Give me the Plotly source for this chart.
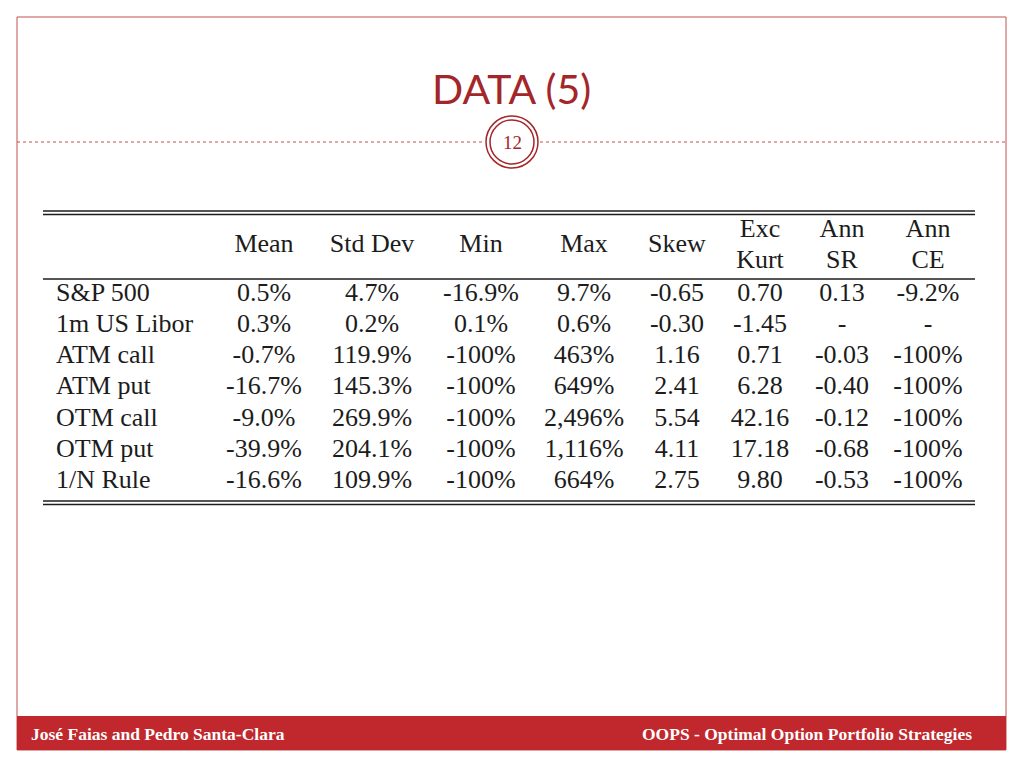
import plotly.graph_objects as go

# ---- data ----
title_text = "DATA (5)"
slide_number = "12"
footer_left = "José Faias and Pedro Santa-Clara"
footer_right = "OOPS - Optimal Option Portfolio Strategies"

row_labels = ["S&P 500", "1m US Libor", "ATM call", "ATM put", "OTM call", "OTM put", "1/N Rule"]
col_headers = [["Mean"], ["Std Dev"], ["Min"], ["Max"], ["Skew"], ["Exc", "Kurt"], ["Ann", "SR"], ["Ann", "CE"]]

mean_vals = ["0.5%", "0.3%", "-0.7%", "-16.7%", "-9.0%", "-39.9%", "-16.6%"]
std_vals = ["4.7%", "0.2%", "119.9%", "145.3%", "269.9%", "204.1%", "109.9%"]
min_vals = ["-16.9%", "0.1%", "-100%", "-100%", "-100%", "-100%", "-100%"]
max_vals = ["9.7%", "0.6%", "463%", "649%", "2,496%", "1,116%", "664%"]
skew_vals = ["-0.65", "-0.30", "1.16", "2.41", "5.54", "4.11", "2.75"]
kurt_vals = ["0.70", "-1.45", "0.71", "6.28", "42.16", "17.18", "9.80"]
sr_vals = ["0.13", "-", "-0.03", "-0.40", "-0.12", "-0.68", "-0.53"]
ce_vals = ["-9.2%", "-", "-100%", "-100%", "-100%", "-100%", "-100%"]
columns = [mean_vals, std_vals, min_vals, max_vals, skew_vals, kurt_vals, sr_vals, ce_vals]

# ---- layout constants ----
W, H = 1024, 768
OFF = 8  # page body margin
RED = "#C0282D"
DARK_RED = "#A3262A"
LINE_RED = "#C0504D"
INK = "#1c1c1c"
SERIF = "Liberation Serif"
FS = 26

col_x = [264, 372, 481, 584, 677, 760, 842, 928]
label_x = 56
row_y0, row_dy = 294, 31.3
head_single_y = 245
head_two_y = (230, 261)

fig = go.Figure()

# table body cells
xs, ys, ts = [], [], []
for ci, col in enumerate(columns):
    for ri, v in enumerate(col):
        xs.append(col_x[ci]); ys.append(row_y0 + ri * row_dy); ts.append(v)
fig.add_trace(go.Scatter(x=xs, y=ys, text=ts, mode="text", textposition="middle center",
                         textfont=dict(family=SERIF, size=FS, color=INK), hoverinfo="skip", showlegend=False))

# row labels
fig.add_trace(go.Scatter(x=[label_x] * len(row_labels), y=[row_y0 + i * row_dy for i in range(len(row_labels))],
                         text=row_labels, mode="text", textposition="middle right",
                         textfont=dict(family=SERIF, size=FS, color=INK), hoverinfo="skip", showlegend=False))

# headers
hx, hy, ht = [], [], []
for ci, lines in enumerate(col_headers):
    if len(lines) == 1:
        hx.append(col_x[ci]); hy.append(head_single_y); ht.append(lines[0])
    else:
        for li, t in enumerate(lines):
            hx.append(col_x[ci]); hy.append(head_two_y[li]); ht.append(t)
fig.add_trace(go.Scatter(x=hx, y=hy, text=ht, mode="text", textposition="middle center",
                         textfont=dict(family=SERIF, size=FS, color=INK), hoverinfo="skip", showlegend=False))

shapes = []
# slide border
shapes.append(dict(type="rect", x0=17, x1=1006, y0=17, y1=750, line=dict(color=LINE_RED, width=1), layer="below"))
# footer bar
shapes.append(dict(type="rect", x0=17, x1=1006, y0=716, y1=750, fillcolor=RED, line=dict(width=0), layer="below"))
# dotted divider
shapes.append(dict(type="line", x0=17, x1=485, y0=142, y1=142, line=dict(color=LINE_RED, width=1, dash="dot")))
shapes.append(dict(type="line", x0=540, x1=1006, y0=142, y1=142, line=dict(color=LINE_RED, width=1, dash="dot")))
# double circle
shapes.append(dict(type="circle", x0=512 - 26, x1=512 + 26, y0=142 - 26, y1=142 + 26,
                   line=dict(color=DARK_RED, width=1.5), fillcolor="white"))
shapes.append(dict(type="circle", x0=512 - 22, x1=512 + 22, y0=142 - 22, y1=142 + 22,
                   line=dict(color=DARK_RED, width=1.5)))
# table rules
for y in (211, 214.5, 279, 501, 504.5):
    shapes.append(dict(type="line", x0=43, x1=975, y0=y, y1=y, line=dict(color=INK, width=1.3)))

annotations = [
    dict(x=511, y=88, text=title_text, showarrow=False, xanchor="center", yanchor="middle",
         font=dict(family="Lato", size=41, color=DARK_RED)),
    dict(x=512, y=142, text=slide_number, showarrow=False, xanchor="center", yanchor="middle",
         font=dict(family=SERIF, size=19, color=DARK_RED)),
    dict(x=29, y=734, text="<b>" + footer_left + "</b>", showarrow=False, xanchor="left", yanchor="middle",
         font=dict(family=SERIF, size=17.5, color="white")),
    dict(x=974, y=734, text="<b>" + footer_right + "</b>", showarrow=False, xanchor="right", yanchor="middle",
         font=dict(family=SERIF, size=17.5, color="white")),
]

fig.update_layout(
    width=W, height=H, margin=dict(l=0, r=0, t=0, b=0),
    paper_bgcolor="white", plot_bgcolor="white",
    xaxis=dict(range=[OFF, W + OFF], visible=False, fixedrange=True),
    yaxis=dict(range=[H + OFF, OFF], visible=False, fixedrange=True),
    shapes=shapes, annotations=annotations, showlegend=False,
)

fig.write_html("out.html", config={"displayModeBar": False})
